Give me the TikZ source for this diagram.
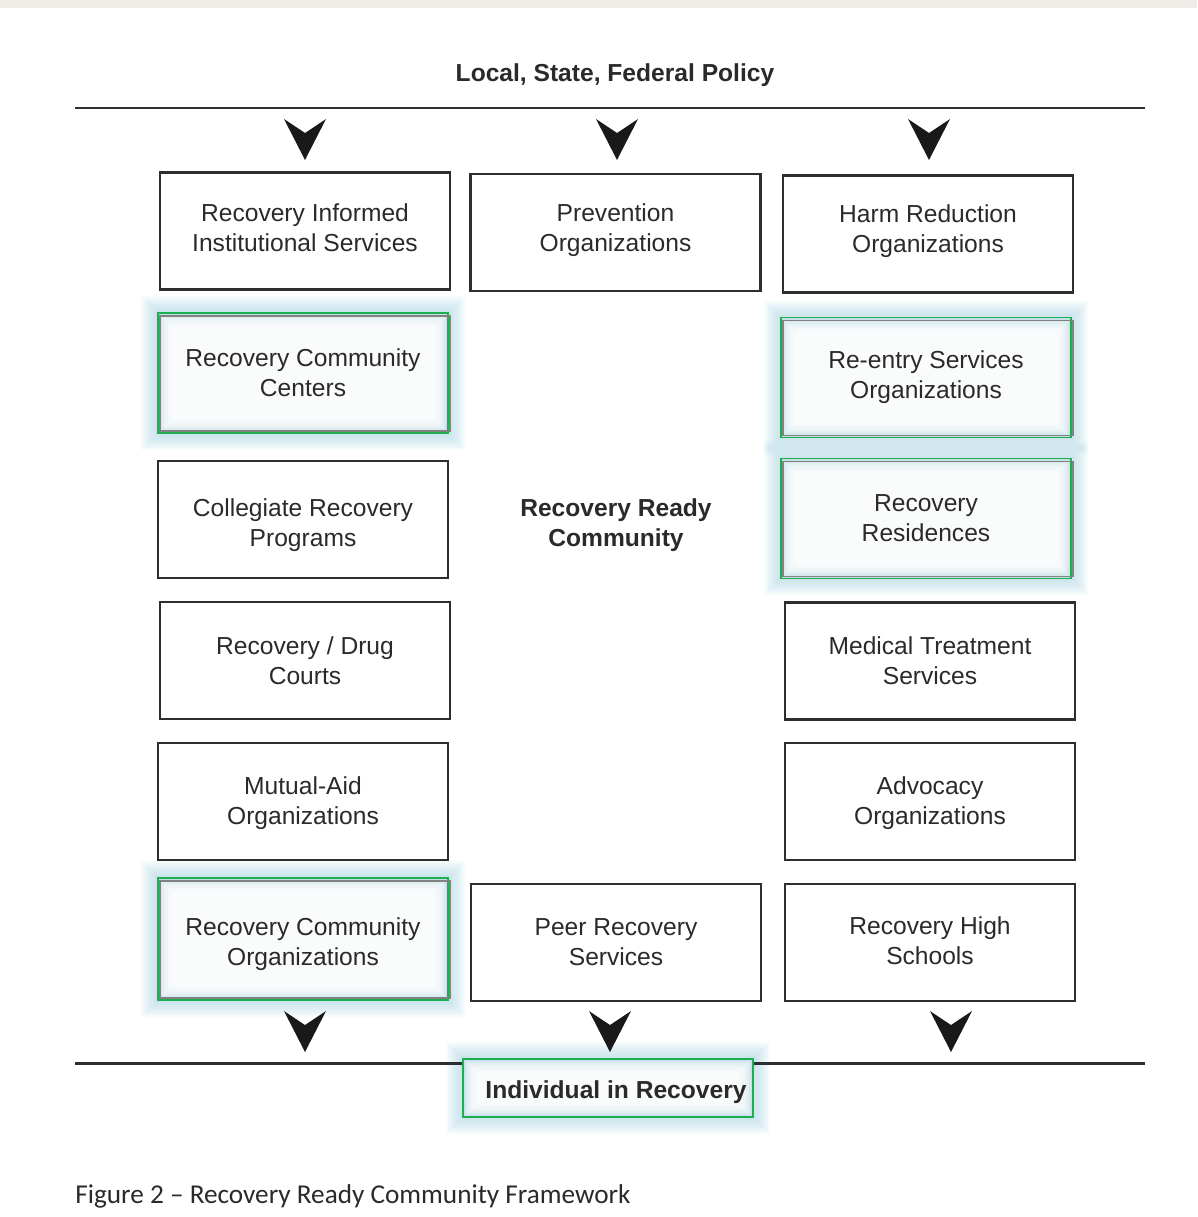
\documentclass[tikz,border=0pt]{standalone}
\usepackage{fontspec}
\setmainfont{Liberation Sans}
\newfontfamily\capfont{Carlito}
\usetikzlibrary{calc,backgrounds}
\definecolor{txtc}{HTML}{2A2A2A}
\definecolor{linec}{HTML}{2E2E2E}
\definecolor{grn}{HTML}{1DAE50}
\definecolor{glowc}{HTML}{A9D3E0}
\definecolor{stripc}{HTML}{F0ECE8}
\tikzset{
  box/.style={draw=linec, line width=1.4pt, minimum width=5.8cm, minimum height=2.34cm, inner sep=0pt, align=center, text=txtc, font=\fontsize{14}{17}\selectfont},
  gbox/.style={draw=grn, line width=1.1pt, minimum width=5.8cm, minimum height=2.4cm, inner sep=0pt, align=center, text=txtc, font=\fontsize{14}{17}\selectfont},
  boxtext/.style={align=center, text=txtc, font=\fontsize{14}{17}\selectfont, inner sep=0pt},
  boldtext/.style={text=txtc, font=\bfseries\fontsize{14}{17}\selectfont, align=center},
  hline/.style={draw=linec, line width=1.7pt},
  arrowc/.style={fill=black!90},
}
\newcommand\glowaround[1]{%
  \foreach \k in {16,14,12,10,8,6,4,2}{%
    \fill[glowc,opacity=0.1] ($(#1.north west)+(-\k,-\k)$) rectangle ($(#1.south east)+(\k,\k)$);
  }%
  \fill[glowc!70] (#1.north west) rectangle (#1.south east);
  \foreach \k in {3,5,7,9,11,13,15,17}{%
    \fill[white,opacity=0.3] ($(#1.north west)+(\k,\k)$) rectangle ($(#1.south east)+(-\k,-\k)$);
  }%
}
\newcommand\darrow[1]{\fill[arrowc] (#1) ++(-21,0) -- ++(21,41) -- ++(21,-41) -- ++(-21,14) -- cycle;}
\begin{document}
\begin{tikzpicture}[x=0.02cm,y=-0.02cm]
\useasboundingbox (0,0) rectangle (1197,1217);
\fill[stripc] (0,0) rectangle (1197,8);

% title and lines
\node[boldtext] (title) at (615,75) {Local, State, Federal Policy};
\coordinate (tl1) at (75,108); \coordinate (tl2) at (1145,108);
\draw[hline] (tl1) -- (tl2);

% row 1
\node[box, label={[boxtext,yshift=0.06cm]center:Recovery Informed\\Institutional Services}] (L1) at (305,231) {};
\node[box, label={[boxtext,yshift=0.04cm]center:Prevention\\Organizations}] (M1) at (615.5,232.5) {};
\node[box, label={[boxtext,yshift=0.06cm]center:Harm Reduction\\Organizations}] (R1) at (928,234) {};
% row 2
\node[gbox] (L2) at (303,373) {Recovery Community\\Centers};
\node[gbox] (R2) at (926,377.5) {Re-entry Services\\Organizations};
% row 3
\node[box, label={[boxtext,yshift=-0.12cm]center:Collegiate Recovery\\Programs}] (L3) at (303,519.5) {};
\node[boldtext] (C) at (616,525) {Recovery Ready\\Community};
\node[gbox] (R3) at (926,518.5) {Recovery\\Residences};
% row 4
\node[box] (L4) at (305,660.5) {Recovery / Drug\\Courts};
\node[box] (R4) at (930,661) {Medical Treatment\\Services};
% row 5
\node[box, label={[boxtext,yshift=-0.04cm]center:Mutual-Aid\\Organizations}] (L5) at (303,801.5) {};
\node[box, label={[boxtext,yshift=-0.04cm]center:Advocacy\\Organizations}] (R5) at (930,801.5) {};
% row 6
\node[gbox, minimum height=2.44cm, label={[boxtext,yshift=-0.1cm]center:Recovery Community\\Organizations}] (L6) at (303,939) {};
\node[box] (M6) at (616,942.5) {Peer Recovery\\Services};
\node[box, label={[boxtext,yshift=0.04cm]center:Recovery High\\Schools}] (R6) at (930,942.5) {};

% bottom
\node[gbox, minimum height=1.16cm, label={[boldtext,inner sep=0pt,yshift=-0.08cm,xshift=0.16cm]center:Individual in Recovery}] (IR) at (608,1088) {};
\coordinate (bl1) at (75,1063); \coordinate (bl2) at (1145,1063);
\draw[hline] (bl1) -- (IR.west |- bl1);
\draw[hline] (IR.east |- bl2) -- (bl2);

% inner dark lines of highlighted boxes
\foreach \n in {L2,R2,R3,L6}{%
  \draw[linec!60, line width=0.9pt] ($(\n.north west)+(3,4)$) rectangle ($(\n.south east)+(1,-3)$);
}

% glows
\begin{scope}[on background layer]
  \glowaround{L2}
  \glowaround{R2}
  \glowaround{R3}
  \glowaround{L6}
  \glowaround{IR}
\end{scope}

% arrows
\coordinate (a1) at (305,119);
\coordinate (a2) at (617,119);
\coordinate (a3) at (929,119);
\coordinate (b1) at (305,1011);
\coordinate (b2) at (610,1011);
\coordinate (b3) at (951,1011);
\darrow{a1}\darrow{a2}\darrow{a3}
\darrow{b1}\darrow{b2}\darrow{b3}

% caption
\node[anchor=west, inner sep=0pt, text=txtc, font=\capfont\fontsize{15.5}{18}\selectfont] (cap) at (75,1196) {Figure 2 – Recovery Ready Community Framework};
\end{tikzpicture}
\end{document}
